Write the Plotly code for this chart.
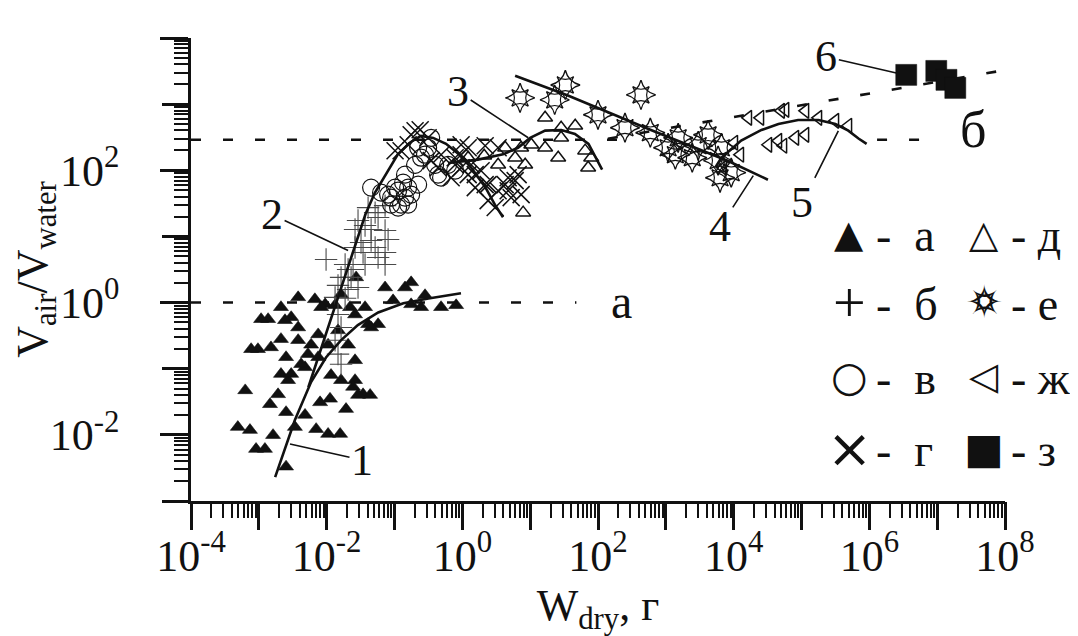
import math
import plotly.graph_objects as go

# ------------------------------------------------------------------ data
# а – filled triangles
ser_a_x = [4.9e-4, 6.3e-4, 7.4e-4, 9.1e-4, 1.23e-3, 1.62e-3, 1.46e-3, 1.92e-3, 2.52e-3, 2.52e-3,
           3.4e-3, 4.8e-3, 7.0e-3, 0.0105, 0.0158, 0.0193, 0.0112, 8.0e-3, 2.12e-3, 2.7e-3,
           3.0e-3, 4.8e-3, 4.2e-3, 5.9e-3, 5.3e-3, 7.5e-3, 7.5e-3, 0.0105, 0.0147, 0.0207,
           0.0262, 0.0262, 0.0163, 0.0116, 0.0245, 0.0344, 0.0437, 0.029, 9.7e-4, 7.7e-4,
           1.51e-3, 2.12e-3, 2.52e-3, 1.37e-3, 2.12e-3, 3.0e-3, 3.8e-3, 3.8e-3, 3.8e-3, 6.7e-3,
           9.5e-3, 8.3e-3, 0.0133, 0.0163, 0.0221, 0.0272, 0.0368, 0.0262, 0.0408, 0.0573,
           0.0452, 0.0726, 0.0953, 0.143, 0.176, 0.176, 0.282, 0.247, 0.486, 0.811,
           1.08e-3, 2.43e-3]
ser_a_y = [0.0131, 0.047, 0.0118, 0.0061, 0.0061, 0.0099, 0.029, 0.041, 0.0033, 0.022,
           0.0131, 0.020, 0.0122, 0.0103, 0.0103, 0.0245, 0.035, 0.031, 0.083, 0.067,
           0.083, 0.105, 0.117, 0.23, 0.166, 0.149, 0.33, 0.23, 0.38, 0.23,
           0.134, 0.067, 0.067, 0.080, 0.053, 0.041, 0.040, 0.040, 0.197, 0.197,
           0.21, 0.28, 0.149, 0.56, 0.85, 0.60, 1.20, 0.42, 0.27, 1.12,
           0.94, 0.85, 0.91, 1.33, 0.85, 2.40, 0.85, 0.66, 0.47, 0.47,
           0.42, 1.69, 1.08, 1.69, 2.02, 0.94, 1.29, 0.85, 0.85, 0.91,
           0.56, 0.54]

# б – plus signs
ser_b_x = [9.8e-3, 0.0187, 0.0245, 0.0368, 0.0726, 0.0726, 0.0573, 0.029, 0.0368, 0.0452,
           0.0573, 0.0726, 0.0805, 0.0452, 0.0321, 0.0262, 0.0518, 0.0408, 0.0726, 0.0207,
           0.0163, 0.0147, 0.0207, 0.029, 0.0133, 0.0187, 0.0147, 0.0163, 0.0133, 0.0147,
           0.0163, 0.0518, 0.0262, 0.0229, 0.0344]
ser_b_y = [4.49, 3.77, 3.17, 3.77, 3.77, 5.71, 4.81, 17.4, 14.6, 12.7,
           19.3, 12.3, 8.97, 8.67, 8.09, 12.7, 22.9, 27.3, 29.2, 3.17,
           2.40, 1.82, 1.58, 1.69, 1.20, 1.16, 0.66, 0.42, 0.27, 0.166,
           0.117, 6.81, 6.81, 2.40, 5.71]

# в – open circles
ser_v_x = [0.0452, 0.0634, 0.0805, 0.0891, 0.0891, 0.102, 0.113, 0.113, 0.125, 0.134,
           0.143, 0.143, 0.159, 0.159, 0.176, 0.201, 0.223, 0.223, 0.247, 0.282,
           0.313, 0.347, 0.397, 0.440, 0.486, 0.618, 0.784]
ser_v_y = [54.7, 45.9, 42.9, 38.6, 30.3, 54.7, 49.2, 27.3, 30.3, 65.0,
           38.6, 85.9, 54.7, 30.3, 42.9, 121, 60.7, 219, 155, 172,
           219, 310, 121, 85.9, 77.3, 121, 98.6]

# г – crosses
ser_g_x = [0.239, 0.176, 0.313, 0.125, 0.102, 0.159, 0.201, 0.959, 1.22, 2.17,
           3.37, 0.784, 0.486, 1.35, 0.684, 1.22, 1.89, 2.40, 3.37, 4.28,
           2.40, 3.05, 5.25, 4.74, 6.65, 1.55, 0.959, 0.347, 0.440, 0.784,
           1.55, 2.17, 4.74, 6.01, 7.36, 0.959]
ser_g_y = [409, 344, 310, 198, 198, 243, 395, 243, 219, 235,
           219, 155, 172, 121, 77.3, 85.9, 98.6, 60.7, 49.2, 60.7,
           34.8, 27.3, 38.6, 77.3, 85.9, 54.7, 109, 140, 109, 121,
           85.9, 60.7, 49.2, 69.7, 42.9, 172]

# д – open triangles
ser_d_x = [1.22, 2.10, 3.37, 4.28, 6.01, 7.36, 8.44, 7.88, 10.4, 16.6,
           16.6, 28.6, 28.6, 46.1, 25.9, 64.7, 79.4, 71.6]
ser_d_y = [155, 166, 121, 219, 155, 219, 121, 22.9, 243, 219,
           621, 440, 310, 471, 155, 198, 155, 109]

# е – stars
ser_e_x = [7.1, 23, 33, 100, 430, 250, 590, 1080, 1380, 1520,
           2450, 3000, 4200, 6600, 5900, 9200, 6300]
ser_e_y = [1245, 1160, 1950, 690, 1380, 440, 370, 219, 172, 310,
           155, 235, 344, 219, 140, 92, 77]

# ж – open left triangles
ser_zh_x = [7000, 10200, 12500, 16400, 24700, 50000, 58000, 114000, 177000, 315000,
            490000, 32400, 45500, 81000, 114000, 54000]
ser_zh_y = [109, 261, 172, 621, 621, 793, 820, 793, 621, 560,
            471, 243, 279, 310, 344, 235]

# з – filled squares
ser_z_x = [3.5e6, 9.7e6, 1.37e7, 1.85e7]
ser_z_y = [2770, 3180, 2330, 1760]

# fitted curves 1–5
curve1_x = [1.74e-3, 3.39e-3, 5.89e-3, 9.77e-3, 0.0162, 0.0288, 0.0575, 0.135, 0.316, 0.955]
curve1_y = [2.29e-3, 0.0166, 0.063, 0.148, 0.269, 0.457, 0.708, 0.977, 1.15, 1.38]
curve2_x = [5.37e-3, 0.0148, 0.0245, 0.0372, 0.0513, 0.0724, 0.112, 0.170, 0.245, 0.372,
            0.575, 0.871, 1.35, 2.19, 3.02, 3.98]
curve2_y = [0.0525, 1.20, 5.75, 21.4, 45.7, 83.2, 174, 263, 331, 309,
            251, 178, 110, 55.0, 30.2, 19.5]
curve3_x = [0.617, 1.70, 3.98, 6.61, 10.0, 16.6, 28.8, 45.7, 72.4, 93.3, 115]
curve3_y = [129, 145, 174, 219, 309, 398, 407, 355, 251, 155, 102]
curve4_x = [6.0, 36, 590, 8300, 32000]
curve4_y = [2690, 1350, 410, 138, 72]
curve5_x = [5370, 6610, 12900, 25700, 45700, 89100, 178000, 316000, 490000, 692000, 912000]
curve5_y = [110, 155, 282, 407, 501, 575, 575, 501, 398, 302, 251]

# dashed asymptotes а, б and trend of group 6
level_a = 1.0
level_a_x = [1e-4, 48]
level_b = 290
level_b_x = [1e-4, 400, None, 1.3e6, 1.05e7]
trend6_x = [140, 1e8]
trend6_y = [300, 3270]

# curve labels and the points their leader lines touch
curve_labels = ["1", "2", "3", "4", "5", "6"]
curve_tip_x = [2.88e-3, 0.0207, 9.35, 19450, 3.49e5, 2.5e6]
curve_tip_y = [7.26e-3, 6.12, 310, 83, 395, 2965]

# axes ticks: labelled decades and unlabelled decades
x_label_vals = [1e-4, 1e-2, 1e0, 1e2, 1e4, 1e6, 1e8]
x_label_text = ["10<sup>-4</sup>", "10<sup>-2</sup>", "10<sup>0</sup>", "10<sup>2</sup>",
                "10<sup>4</sup>", "10<sup>6</sup>", "10<sup>8</sup>"]
x_decades = [1e-4, 1e-3, 1e-2, 1e-1, 1e0, 1e1, 1e2, 1e3, 1e4, 1e5, 1e6, 1e7, 1e8]
y_label_vals = [1e-2, 1e0, 1e2, 1e4]
y_label_text = ["10<sup>-2</sup>", "10<sup>0</sup>", "10<sup>2</sup>", "10<sup>4</sup>"]
y_odd_decades = [1e-3, 1e-1, 1e1, 1e3]

# legend entries (two columns)
legend_names = ["а", "б", "в", "г", "д", "е", "ж", "з"]

# ------------------------------------------------------------------ style
INK = "#111111"
SERIF = "Liberation Serif"
SYM = "DejaVu Sans"
W, H = 1078, 636
L, R, T, B = 183, 997, 30, 493
DASH = "10px,22px"
NB = "\u00a0"
MAJOR_LEN, MINOR_LEN = 28, 14


def px_x(p):
    return (p - L) / (R - L)


def px_y(p):
    return (B - p) / (B - T)


fig = go.Figure()


def lines(x, y, name, dash=None, width=2.6, xaxis="x", yaxis="y"):
    fig.add_trace(go.Scatter(x=x, y=y, mode="lines", name=name, showlegend=False,
                             line=dict(color=INK, width=width, dash=dash),
                             hoverinfo="skip", xaxis=xaxis, yaxis=yaxis))


def markers(x, y, name, symbol, size, lw=1.3, color=INK):
    fig.add_trace(go.Scatter(x=x, y=y, mode="markers", name=name, showlegend=False,
                             marker=dict(symbol=symbol, size=size, color=color,
                                         line=dict(color=color, width=lw))))


# dashed reference lines
lines(level_a_x, [level_a] * len(level_a_x), "а-level", DASH)
lines(level_b_x, [level_b if v is not None else None for v in level_b_x], "б-level", DASH)
lines(trend6_x, trend6_y, "trend 6", DASH, xaxis="x2", yaxis="y2")

# data groups
markers(ser_a_x, ser_a_y, "а", "triangle-up", 13, lw=0.6)
markers(ser_b_x, ser_b_y, "б", "cross-thin", 16, lw=1.1, color="#4a4a4a")
markers(ser_v_x, ser_v_y, "в", "circle-open", 17, lw=1.2)
markers(ser_g_x, ser_g_y, "г", "x-thin", 17, lw=1.5)
markers(ser_d_x, ser_d_y, "д", "triangle-up-open", 13, lw=1.5)
markers(ser_e_x, ser_e_y, "е", "star-square-open", 15, lw=1.4)
markers(ser_e_x, ser_e_y, "е", "star-diamond-open", 21, lw=1.4)
markers(ser_zh_x, ser_zh_y, "ж", "triangle-left-open", 13, lw=1.5)
markers(ser_z_x, ser_z_y, "з", "square", 21, lw=0.5)

# fitted curves
lines(curve1_x, curve1_y, "1")
lines(curve2_x, curve2_y, "2")
lines(curve3_x, curve3_y, "3")
lines(curve4_x, curve4_y, "4")
lines(curve5_x, curve5_y, "5")

# ------------------------------------------------------------------ axes
base = dict(type="log", showgrid=False, zeroline=False, mirror=False, tickcolor=INK,
            tickmode="array", automargin=False, ticks="outside", tickwidth=2.6,
            tickfont=dict(family=SERIF, size=44, color=INK))
x_minor = [m * 10.0 ** k for k in range(-4, 8) for m in range(2, 10)]
y_minor = [m * 10.0 ** k for k in range(-3, 4) for m in range(2, 10)]
minor_style = dict(tickmode="array", ticks="outside", ticklen=MINOR_LEN, tickwidth=1.6,
                   tickcolor=INK, showgrid=False)

fig.update_layout(
    xaxis=dict(**base, range=[-4, 8], showline=True, linecolor=INK, linewidth=2.6,
               tickvals=x_label_vals, ticktext=x_label_text, ticklen=MINOR_LEN,
               minor=dict(**minor_style, tickvals=x_minor),
               title=dict(text="W<sub>dry</sub>, г", standoff=2,
                          font=dict(family=SERIF, size=44, color=INK))),
    xaxis2=dict(**base, range=[-4, 8], overlaying="x", anchor="y", side="bottom",
                showline=False, showticklabels=False, tickvals=x_decades,
                ticklen=MAJOR_LEN),
    yaxis=dict(**base, range=[-3, 4], showline=True, linecolor=INK, linewidth=2.6,
               tickvals=y_label_vals, ticktext=y_label_text, ticklen=MAJOR_LEN,
               ticklabelstandoff=32,
               minor=dict(**minor_style, tickvals=y_minor),
               title=dict(text="V<sub>air</sub>/V<sub>water</sub>", standoff=2,
                          font=dict(family=SERIF, size=44, color=INK))),
    yaxis2=dict(**base, range=[-3, 4], overlaying="y", anchor="x", side="left",
                showline=False, showticklabels=False, tickvals=y_odd_decades,
                ticklen=MAJOR_LEN),
)

# ------------------------------------------------------------------ annotations
annotations = []

# curve number labels with leader lines
label_offsets = [(72, 16), (-76, -36), (-70, -46), (-33, 51), (-36, 72), (-70, -16)]
for lab, tx, ty, (ox, oy) in zip(curve_labels, curve_tip_x, curve_tip_y, label_offsets):
    annotations.append(dict(x=math.log10(tx), y=math.log10(ty), xref="x", yref="y",
                            text=lab, showarrow=True, arrowhead=0, arrowwidth=1.6,
                            arrowcolor=INK, ax=ox, ay=oy,
                            font=dict(family=SERIF, size=44, color=INK)))

# asymptote labels
annotations.append(dict(x=px_x(613), y=px_y(293), xref="paper", yref="paper", text="а",
                        showarrow=False, xanchor="center", yanchor="middle",
                        font=dict(family=SERIF, size=48, color=INK)))
annotations.append(dict(x=px_x(965), y=px_y(121), xref="paper", yref="paper", text="б",
                        showarrow=False, xanchor="center", yanchor="middle",
                        font=dict(family=SERIF, size=52, color=INK)))

# legend (two columns of symbol + "- name")
legend_glyphs = [("▲", SYM, 38), ("+", SERIF, 58), ("○", SYM, 42), ("×", SYM, 54),
                 ("△", SYM, 38), ("✧", SYM, 46), ("◁", SYM, 38), ("■", SYM, 42)]
row_py = [226, 294, 368, 440]
col_sym_px = [841, 976]
col_txt_px = [866, 1001]
col_gap = [" " + NB, " "]
for i, name in enumerate(legend_names):
    col, row = divmod(i, 4)
    glyph, fam, size = legend_glyphs[i]
    angles = [0, 45] if glyph == "✧" else [0]
    for ang in angles:
        annotations.append(dict(x=px_x(col_sym_px[col]), y=px_y(row_py[row]), xref="paper",
                                yref="paper", text=glyph, showarrow=False, textangle=ang,
                                xanchor="center", yanchor="middle",
                                font=dict(family=fam, size=size, color=INK)))
    annotations.append(dict(x=px_x(col_txt_px[col]), y=px_y(row_py[row] + 2), xref="paper",
                            yref="paper", text="-" + col_gap[col] + name, showarrow=False,
                            xanchor="left", yanchor="middle",
                            font=dict(family=SERIF, size=46, color=INK)))

fig.update_layout(
    width=W, height=H, template="none", showlegend=False,
    margin=dict(l=L, r=W - R, t=T, b=H - B, pad=0),
    paper_bgcolor="white", plot_bgcolor="white",
    font=dict(family=SERIF, color=INK, size=44),
    annotations=annotations,
)

fig.write_html("out.html")
